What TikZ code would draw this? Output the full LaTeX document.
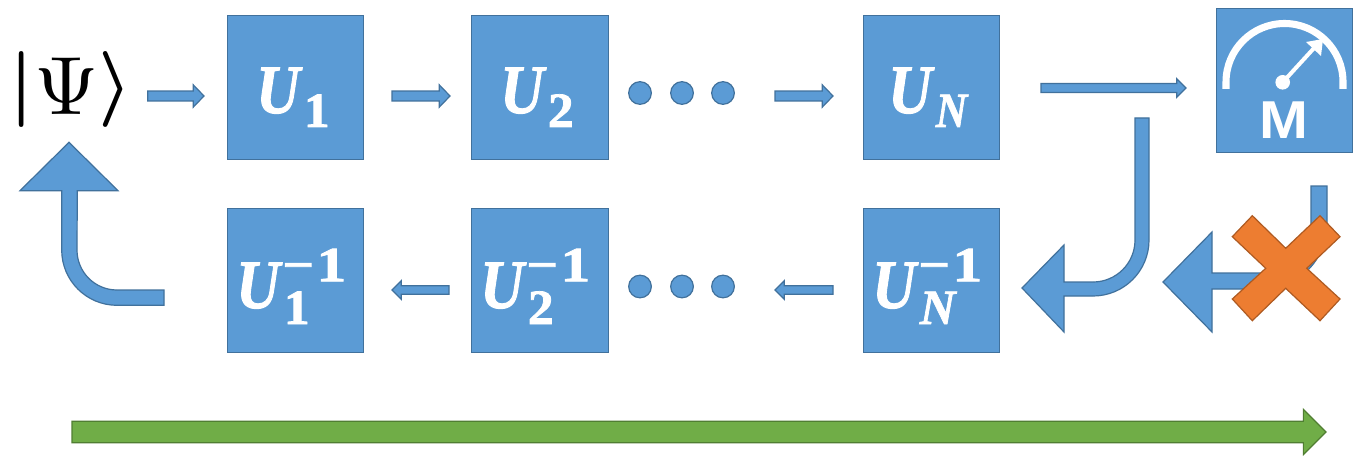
\documentclass[tikz,border=0pt]{standalone}
\usepackage{fontspec}
\setmainfont{Liberation Serif}[BoldFeatures={FakeBold=1.5},BoldItalicFeatures={FakeBold=1.5}]
\newfontfamily\msans{Liberation Sans}
\usetikzlibrary{calc}
\definecolor{bluef}{HTML}{5B9BD5}
\definecolor{blueb}{HTML}{41719C}
\definecolor{orf}{HTML}{ED7D31}
\definecolor{orb}{HTML}{AE5A21}
\definecolor{grf}{HTML}{70AD47}
\definecolor{grb}{HTML}{507E32}
\newcommand{\ubig}{\scalebox{.87}[1]{\fontsize{52}{52}\selectfont\bfseries\itshape U}}
\newcommand{\usmall}{\fontsize{37}{37}\selectfont\bfseries\upshape}
\newcommand{\dig}[1]{\scalebox{1.2}[1]{\usmall #1}}
\newcommand{\sdig}[1]{\scalebox{1.05}[1]{\usmall #1}}
\newcommand{\supm}{\raisebox{20pt}{\scalebox{1.12}[1]{\usmall\textminus}\kern2pt\dig{1}}}
\newcommand{\usub}[1]{\ubig\kern3pt\raisebox{-10.5pt}{\sdig{#1}}}
\newcommand{\usubsup}[1]{\ubig\kern3pt\rlap{\raisebox{-12pt}{\sdig{#1}}}\kern-1pt\supm}
\newcommand{\blockarrow}[6][bluearrow]{%
  \coordinate (hb) at ($(#3)!#5!(#2)$);
  \filldraw[#1] ($(#2)!#4!90:(#3)$) -- ($(hb)!#4!90:(#3)$) -- ($(hb)!#6!90:(#3)$) -- (#3)
    -- ($(hb)!#6!-90:(#3)$) -- ($(hb)!#4!-90:(#3)$) -- ($(#2)!#4!-90:(#3)$) -- cycle;}
\tikzset{
  x=0.75pt, y=-0.75pt,
  box/.style={draw=blueb, line width=0.9pt, fill=bluef, minimum width=102.5pt, minimum height=108.5pt, inner sep=0pt},
  lab/.style={text=white, inner sep=0pt, anchor=base west},
  bluearrow/.style={draw=blueb, line width=0.9pt, fill=bluef},
  greenarrow/.style={draw=grb, line width=0.9pt, fill=grf},
  dotn/.style={circle, fill=bluef, draw=blueb, line width=0.9pt, minimum size=17pt, inner sep=0pt},
}
\begin{document}
\begin{tikzpicture}
\useasboundingbox (0,0) rectangle (1362,456);
\fill[white] (0,0) rectangle (1362,456);
% boxes
\node[box] (u1) at (295.5,87.5) {};
\node[box] (u2) at (540,87.5) {};
\node[box] (uN) at (931.5,87.5) {};
\node[box] (d1) at (295.5,280.5) {};
\node[box] (d2) at (540,280.5) {};
\node[box] (dN) at (931.5,280.5) {};
\node[box] (m) at (1284.5,80.5) {};
% labels
\node[lab] (lu1) at (256,113) {\usub{1}};
\node[lab] (lu2) at (500,113) {\usub{2}};
\node[lab] (luN) at (888,113) {\ubig\kern3pt\raisebox{-10.5pt}{\scalebox{.88}[1]{\usmall\itshape N}}};
\node[lab] (ld1) at (236,308) {\usubsup{1}};
\node[lab] (ld2) at (480,308) {\usubsup{2}};
\node[lab] (ldN) at (872,308) {\ubig\kern3pt\rlap{\raisebox{-12pt}{\usmall\itshape N}}\kern-1pt\supm};
\node[inner sep=0pt, anchor=base west] (psi) at (9.5,109) {\scalebox{5.7}{\boldmath$|$}\raisebox{-4.5pt}{\scalebox{6.2}{$\Psi$}}\scalebox{5.7}{\boldmath$\rangle$}};
% dots
\foreach \n/\x in {a/640,b/682,c/723}{
  \node[dotn] (t\n) at (\x,93) {};
  \node[dotn] (s\n) at (\x,286.5) {};
}
% thin arrows
\coordinate (a1s) at (147.7,96); \coordinate (a1e) at (204,96);
\coordinate (a2s) at (392,96); \coordinate (a2e) at (450,96);
\coordinate (a3s) at (775,96); \coordinate (a3e) at (833,96);
\coordinate (a4s) at (449,290); \coordinate (a4e) at (392,290);
\coordinate (a5s) at (833,290); \coordinate (a5e) at (775,290);
\coordinate (a6s) at (1041,88); \coordinate (a6e) at (1186,88);
\coordinate (gs) at (72,432); \coordinate (ge) at (1326,432);
\blockarrow{a1s}{a1e}{3.7pt}{8pt}{8.3pt}
\blockarrow{a2s}{a2e}{3.7pt}{8pt}{8.3pt}
\blockarrow{a3s}{a3e}{3.7pt}{8pt}{8.3pt}
\blockarrow{a4s}{a4e}{3.2pt}{7pt}{7pt}
\blockarrow{a5s}{a5e}{3.2pt}{7pt}{7pt}
\blockarrow{a6s}{a6e}{3.4pt}{7pt}{7pt}
\blockarrow[greenarrow]{gs}{ge}{8pt}{17pt}{17pt}
% curved arrows
\filldraw[bluearrow] (1149,118) -- (1149,240) arc (0:90:56) -- (1064,296) -- (1064,332) -- (1022,288)
  -- (1064,245) -- (1064,282) -- (1093,282) arc (90:0:42) -- (1135,118) -- cycle;
\filldraw[bluearrow] (1327,186) -- (1327,224) arc (0:90:65) -- (1212,289) -- (1212,332) -- (1163,282)
  -- (1212,232) -- (1212,273) -- (1262,273) arc (90:0:49) -- (1311,186) -- cycle;
\filldraw[bluearrow] (164,290) -- (117,290) arc (90:180:40) -- (77.3,190.7) -- (118,190.7) -- (69,142.3)
  -- (20,190.7) -- (61.7,190.7) -- (61.7,250) arc (180:90:55.3) -- (164,305.3) -- cycle;
% cross
\filldraw[draw=orb, line width=0.9pt, fill=orf] (1252.3,215.7) -- (1285.7,248.3) -- (1320,215.7) -- (1340,236.7)
  -- (1306.7,268.3) -- (1340,299) -- (1320,320.7) -- (1285.7,288.3) -- (1252.3,320.7) -- (1232.3,299)
  -- (1265.7,268.3) -- (1232.3,236.7) -- cycle;
% meter
\draw[white, line width=5.3pt] (1226,89) -- (1226,82) arc (180:360:58.5) -- (1343,89);
\fill[white] (1282.7,82.3) circle (7.3);
\draw[white, line width=3pt] (1282.7,82.3) -- (1315,47);
\fill[white] (1323,39) -- (1306,42) -- (1321,56) -- cycle;
\node[text=white, inner sep=0pt, anchor=base] (mt) at (1284,138) {\scalebox{1.1}[1]{\fontsize{40}{40}\selectfont\msans\bfseries M}};
\end{tikzpicture}
\end{document}
